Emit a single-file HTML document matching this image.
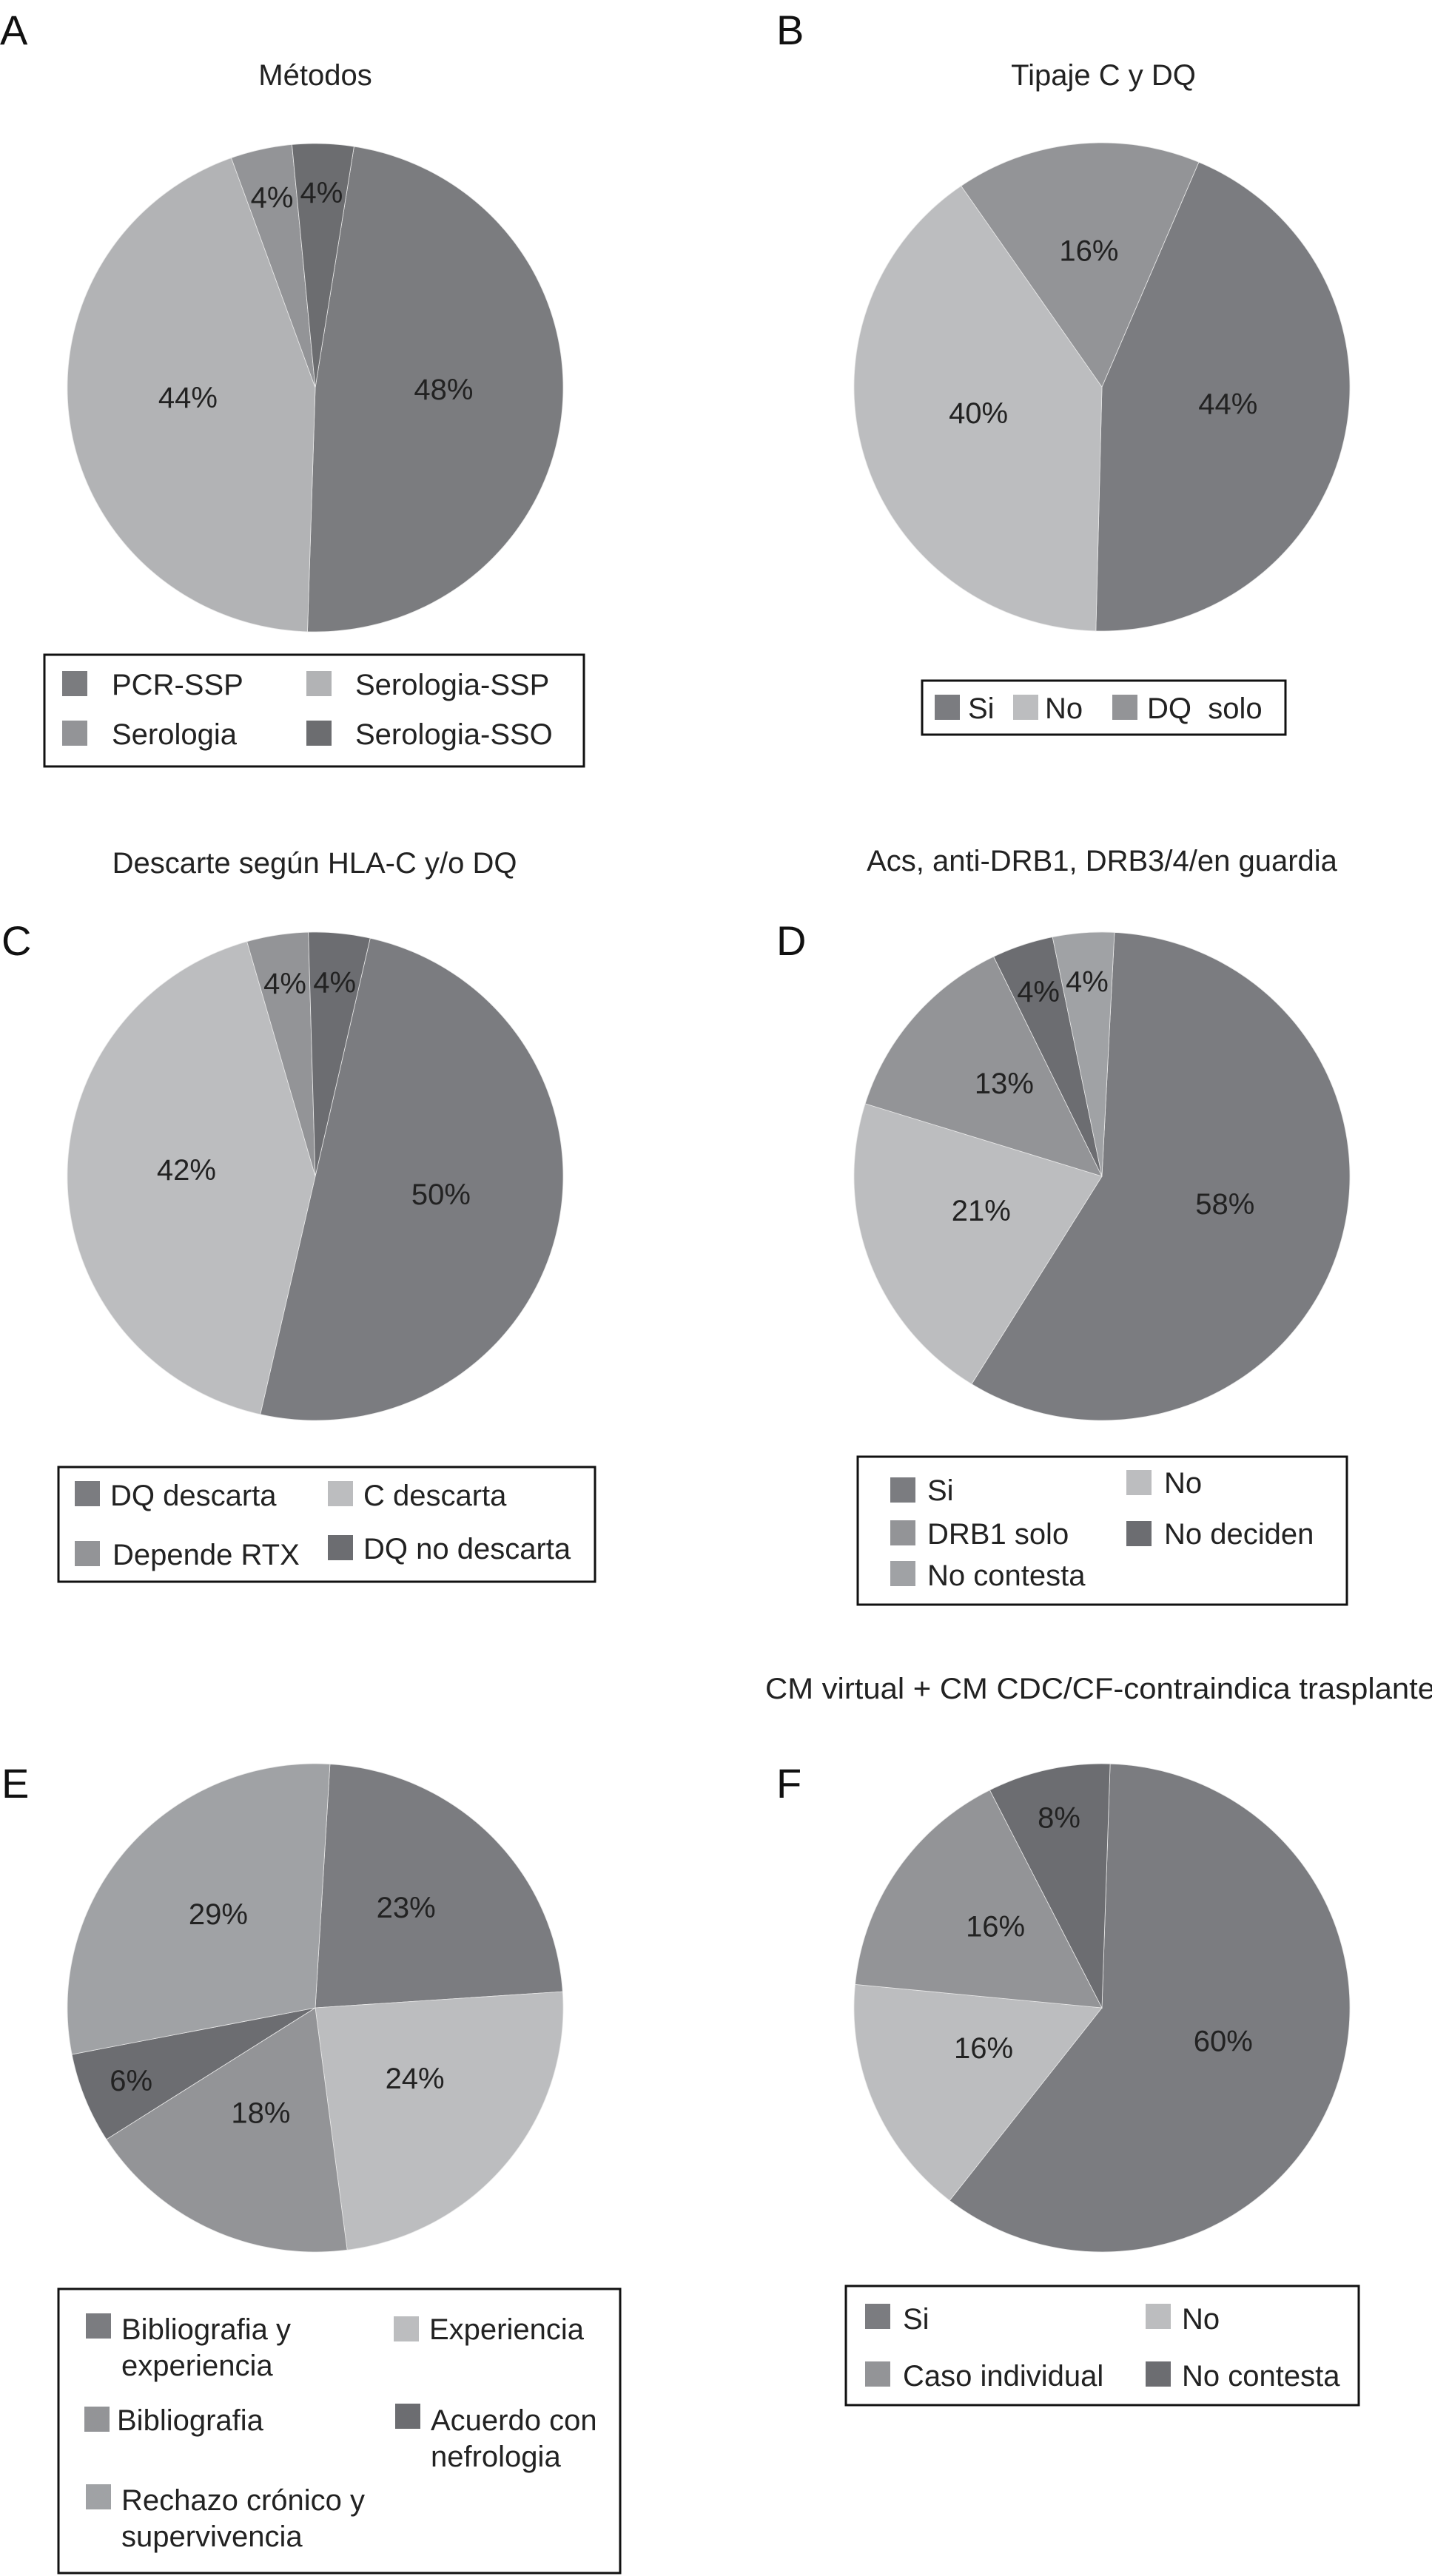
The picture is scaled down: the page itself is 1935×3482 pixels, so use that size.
<!DOCTYPE html>
<html><head><meta charset="utf-8">
<style>
html,body{margin:0;padding:0;background:#fff;}
svg{display:block;}
text{font-family:"Liberation Sans",Arial,sans-serif;}
</style></head>
<body>
<svg id="fig" width="1935" height="3482" viewBox="0 0 1935 3482" xmlns="http://www.w3.org/2000/svg">
  <rect x="0" y="0" width="1935" height="3482" fill="#fff"/>
  <text x="0" y="60" font-size="56" fill="#111">A</text>
  <text x="1049" y="60" font-size="56" fill="#111">B</text>
  <text x="2" y="1291" font-size="56" fill="#111">C</text>
  <text x="1049" y="1291" font-size="56" fill="#111">D</text>
  <text x="2" y="2430" font-size="56" fill="#111">E</text>
  <text x="1049" y="2430" font-size="56" fill="#111">F</text>
  <text x="426" y="115" font-size="40" text-anchor="middle" fill="#222">Métodos</text>
  <text x="1491" y="115" font-size="40" text-anchor="middle" fill="#222">Tipaje C y DQ</text>
  <text x="425" y="1180" font-size="40" text-anchor="middle" fill="#222">Descarte según HLA-C y/o DQ</text>
  <text x="1489" y="1177" font-size="40" text-anchor="middle" fill="#222">Acs, anti-DRB1, DRB3/4/en guardia</text>
  <text x="1034" y="2296" font-size="40" textLength="905" lengthAdjust="spacingAndGlyphs" fill="#222">CM virtual + CM CDC/CF-contraindica trasplante</text>
  <g id="charts"></g>
</svg>
<script>
const aCategories = ["PCR-SSP", "Serologia-SSP", "Serologia", "Serologia-SSO"];
const aValues = [48, 44, 4, 4];
const aColors = ["#7b7c7f", "#b2b3b5", "#939497", "#6c6d70"];
const bCategories = ["Si", "No", "DQ  solo"];
const bValues = [44, 40, 16];
const bColors = ["#7b7c80", "#bcbdbf", "#939497"];
const cCategories = ["DQ descarta", "C descarta", "Depende RTX", "DQ no descarta"];
const cValues = [50, 42, 4, 4];
const cColors = ["#7b7c80", "#bcbdbf", "#939497", "#6c6d71"];
const dCategories = ["Si", "No", "DRB1 solo", "No deciden", "No contesta"];
const dValues = [58, 21, 13, 4, 4];
const dColors = ["#7b7c80", "#bcbdbf", "#939497", "#6c6d71", "#a0a2a5"];
const eCategories = ["Bibliografia y experiencia", "Experiencia", "Bibliografia", "Acuerdo con nefrologia", "Rechazo crónico y supervivencia"];
const eValues = [23, 24, 18, 6, 29];
const eColors = ["#7b7c80", "#bcbdbf", "#939497", "#6c6d71", "#a0a2a5"];
const fCategories = ["Si", "No", "Caso individual", "No contesta"];
const fValues = [60, 16, 16, 8];
const fColors = ["#7b7c80", "#bcbdbf", "#939497", "#6c6d71"];

const NS = "http://www.w3.org/2000/svg";
const root = document.getElementById("charts");

function mk(tag, attrs, parent) {
  const el = document.createElementNS(NS, tag);
  for (const k in attrs) el.setAttribute(k, attrs[k]);
  (parent || root).appendChild(el);
  return el;
}

function pt(cx, cy, rx, ry, deg, f) {
  const t = deg * Math.PI / 180;
  return [cx + rx * f * Math.sin(t), cy - ry * f * Math.cos(t)];
}

function drawPie(id, cats, vals, colors, cx, cy, rx, ry, start) {
  const g = mk("g", {});
  
  
  const total = vals.reduce((s, v) => s + v, 0);
  let a = start;
  vals.forEach((v, i) => {
    const sweep = v / total * 360;
    let d = "M" + cx + "," + cy;
    const steps = Math.max(4, Math.ceil(sweep));
    for (let s = 0; s <= steps; s++) {
      const p = pt(cx, cy, rx, ry, a + sweep * s / steps, 1);
      d += " L" + p[0].toFixed(2) + "," + p[1].toFixed(2);
    }
    d += " Z";
    const path = mk("path", { d: d, fill: colors[i], stroke: "#e8e8e8", "stroke-width": "0.8" }, g);
    
    
    const f = v < 10 ? 0.8 : 0.52;
    const lp = pt(cx, cy, rx, ry, a + sweep / 2, f);
    const t = mk("text", { x: lp[0].toFixed(1), y: (lp[1] + (v < 10 ? 14 : 0)).toFixed(1), "font-size": "40", "text-anchor": "middle", fill: "#222" }, g);
    t.textContent = v + "%";
    
    
    a += sweep;
  });
}

function drawLegend(id, box, items) {
  const g = mk("g", {});
  
  
  mk("rect", { x: box[0], y: box[1], width: box[2], height: box[3], fill: "#fff", stroke: "#111", "stroke-width": "3" }, g);
  items.forEach(it => {
    const sq = mk("rect", { x: it.sx, y: it.sy, width: 34, height: 34, fill: it.color }, g);
    
    
    it.lines.forEach((ln, k) => {
      const t = mk("text", { x: it.tx, y: it.ty + k * 49, "font-size": "40", fill: "#222" }, g);
      t.style.whiteSpace = "pre";
      t.textContent = ln;
      
      
    });
  });
}

drawPie("a", aCategories, aValues, aColors, 426, 524, 335, 330, 9);
drawPie("b", bCategories, bValues, bColors, 1489, 523, 335, 330, 23);
drawPie("c", cCategories, cValues, cColors, 426, 1590, 335, 330, 12.8);
drawPie("d", dCategories, dValues, dColors, 1489, 1590, 335, 330, 2.9);
drawPie("e", eCategories, eValues, eColors, 426, 2714, 335, 330, 3.4);
drawPie("f", fCategories, fValues, fColors, 1489, 2714, 335, 330, 1.9);

drawLegend("a", [60, 885, 729, 151], [
  { sx: 84, sy: 907, tx: 151, ty: 939, color: aColors[0], lines: [aCategories[0]] },
  { sx: 414, sy: 907, tx: 480, ty: 939, color: aColors[1], lines: [aCategories[1]] },
  { sx: 84, sy: 974, tx: 151, ty: 1006, color: aColors[2], lines: [aCategories[2]] },
  { sx: 414, sy: 974, tx: 480, ty: 1006, color: aColors[3], lines: [aCategories[3]] }
]);
drawLegend("b", [1246, 920, 491, 73], [
  { sx: 1263, sy: 939, tx: 1308, ty: 971, color: bColors[0], lines: [bCategories[0]] },
  { sx: 1369, sy: 939, tx: 1412, ty: 971, color: bColors[1], lines: [bCategories[1]] },
  { sx: 1503, sy: 939, tx: 1550, ty: 971, color: bColors[2], lines: [bCategories[2]] }
]);
drawLegend("c", [79, 1983, 725, 155], [
  { sx: 101, sy: 2002, tx: 149, ty: 2035, color: cColors[0], lines: [cCategories[0]] },
  { sx: 443, sy: 2002, tx: 491, ty: 2035, color: cColors[1], lines: [cCategories[1]] },
  { sx: 101, sy: 2083, tx: 152, ty: 2115, color: cColors[2], lines: [cCategories[2]] },
  { sx: 443, sy: 2075, tx: 491, ty: 2107, color: cColors[3], lines: [cCategories[3]] }
]);
drawLegend("d", [1159, 1969, 661, 200], [
  { sx: 1203, sy: 1997, tx: 1253, ty: 2028, color: dColors[0], lines: [dCategories[0]] },
  { sx: 1522, sy: 1987, tx: 1573, ty: 2018, color: dColors[1], lines: [dCategories[1]] },
  { sx: 1203, sy: 2055, tx: 1253, ty: 2087, color: dColors[2], lines: [dCategories[2]] },
  { sx: 1522, sy: 2056, tx: 1573, ty: 2087, color: dColors[3], lines: [dCategories[3]] },
  { sx: 1203, sy: 2110, tx: 1253, ty: 2143, color: dColors[4], lines: [dCategories[4]] }
]);
drawLegend("e", [79, 3094, 759, 384], [
  { sx: 116, sy: 3127, tx: 164, ty: 3162, color: eColors[0], lines: ["Bibliografia y", "experiencia"] },
  { sx: 532, sy: 3131, tx: 580, ty: 3162, color: eColors[1], lines: [eCategories[1]] },
  { sx: 114, sy: 3253, tx: 158, ty: 3285, color: eColors[2], lines: [eCategories[2]] },
  { sx: 534, sy: 3249, tx: 582, ty: 3285, color: eColors[3], lines: ["Acuerdo con", "nefrologia"] },
  { sx: 116, sy: 3358, tx: 164, ty: 3393, color: eColors[4], lines: ["Rechazo crónico y", "supervivencia"] }
]);
drawLegend("f", [1143, 3090, 693, 161], [
  { sx: 1169, sy: 3114, tx: 1220, ty: 3148, color: fColors[0], lines: [fCategories[0]] },
  { sx: 1548, sy: 3114, tx: 1597, ty: 3148, color: fColors[1], lines: [fCategories[1]] },
  { sx: 1169, sy: 3192, tx: 1220, ty: 3225, color: fColors[2], lines: [fCategories[2]] },
  { sx: 1548, sy: 3192, tx: 1597, ty: 3225, color: fColors[3], lines: [fCategories[3]] }
]);
</script>
</body></html>
